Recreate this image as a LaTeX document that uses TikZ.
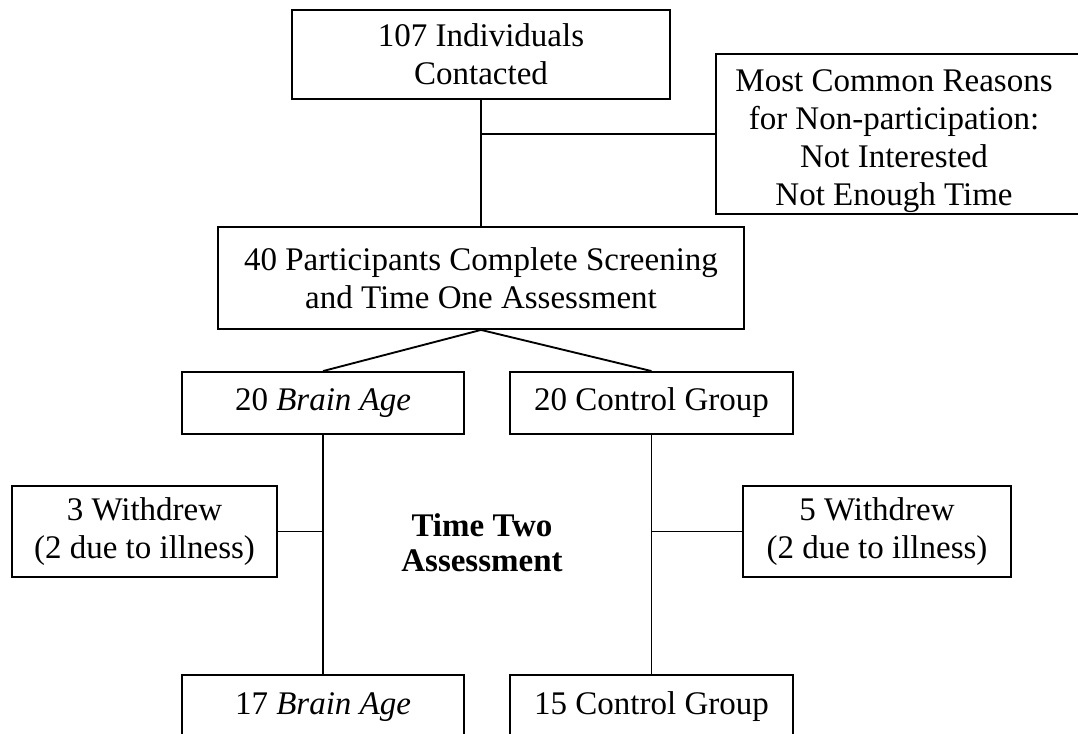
\documentclass[tikz,border=0pt]{standalone}
\usepackage{fontspec}
\setmainfont{Liberation Serif}
\begin{document}
\begin{tikzpicture}[x=0.75pt,y=-0.75pt,
  box/.style={draw,line width=1.4pt,inner sep=0pt,align=center,
    font=\fontsize{24.75}{28.5}\selectfont},
  conn/.style={line width=1.4pt},
  plain/.style={inner sep=0pt,align=center,font=\fontsize{24.75}{28.5}\selectfont}]
\useasboundingbox (0,0) rectangle (1078,734);
\clip (0,0) rectangle (1078,734);
% boxes
\node[box,minimum width=378*0.75pt,minimum height=89*0.75pt] (top) at (481,54.5) {107 Individuals\\Contacted};
\node[box,minimum width=380*0.75pt,minimum height=160*0.75pt] (reasons) at (906,134) {};
\begin{scope}
\clip (716,54) rectangle (1090,213);
\node[plain] (reasonstext) at (894,141) {Most Common Reasons\\for Non-participation:\\Not Interested\\Not Enough Time};
\end{scope}
\node[box,minimum width=526*0.75pt,minimum height=102*0.75pt] (p40) at (481,278) {40 Participants Complete Screening\\and Time One Assessment};
\node[box,minimum width=282*0.75pt,minimum height=62*0.75pt] (b20) at (323,403) {20 \textit{Brain Age}};
\node[box,minimum width=283*0.75pt,minimum height=62*0.75pt] (c20) at (651.5,403) {20 Control Group};
\node[box,minimum width=265*0.75pt,minimum height=91*0.75pt] (w3) at (144.5,531.5) {3 Withdrew\\(2 due to illness)};
\node[box,minimum width=268*0.75pt,minimum height=91*0.75pt] (w5) at (877,531.5) {5 Withdrew\\(2 due to illness)};
\node[plain,font=\fontsize{24.75}{26}\selectfont\bfseries] (tta) at (482,543) {Time Two\\Assessment};
\node[box,minimum width=282*0.75pt,minimum height=64*0.75pt] (b17) at (323,707) {17 \textit{Brain Age}};
\node[box,minimum width=283*0.75pt,minimum height=64*0.75pt] (c15) at (651.5,707) {15 Control Group};
% connectors
\draw[conn] (top.south) -- (p40.north);
\draw[conn] (reasons.west) -- (reasons.west -| top.south);
\draw[conn] (p40.south) -- (b20.north);
\draw[conn] (p40.south) -- (c20.north);
\draw[conn] (b20.south) -- (b17.north);
\draw[conn] (c20.south) -- (c15.north);
\draw[conn] (w3.east) -- (w3.east -| b20.south);
\draw[conn] (w5.west) -- (w5.west -| c20.south);
\end{tikzpicture}
\end{document}
